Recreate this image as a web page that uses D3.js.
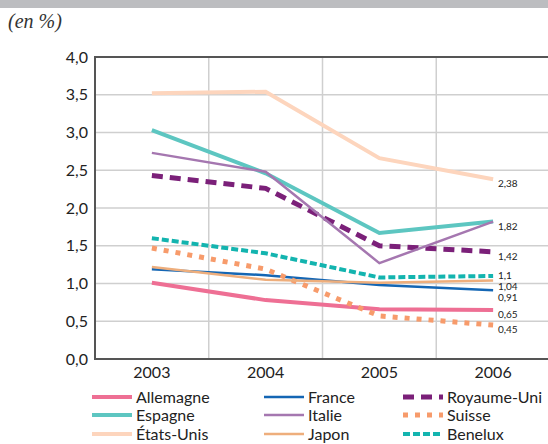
<!DOCTYPE html>
<html>
<head>
<meta charset="utf-8">
<script src="https://cdn.jsdelivr.net/npm/d3@7"></script>
<style>
  html, body { margin: 0; padding: 0; background: #fff; }
  svg { display: block; }
</style>
</head>
<body>
<svg id="chart" width="548" height="444"></svg>
<script>
// Years on the horizontal axis
const years = ["2003", "2004", "2005", "2006"];

// Rates (%) per country
const allemagne  = [1.01, 0.78, 0.66, 0.65];
const france     = [1.19, 1.11, 0.98, 0.91];
const royaumeUni = [2.43, 2.26, 1.50, 1.42];
const espagne    = [3.03, 2.46, 1.67, 1.82];
const italie     = [2.73, 2.48, 1.27, 1.82];
const suisse     = [1.47, 1.19, 0.57, 0.45];
const etatsUnis  = [3.52, 3.54, 2.66, 2.38];
const japon      = [1.22, 1.05, 1.01, 1.04];
const benelux    = [1.60, 1.40, 1.08, 1.10];

// Value labels shown at the end of the lines
const endLabels = ["2,38", "1,82", "1,42", "1,1", "1,04", "0,91", "0,65", "0,45"];
const endValues = [2.38, 1.82, 1.42, 1.10, 1.04, 0.91, 0.65, 0.45];

const yTicks = [0, 0.5, 1, 1.5, 2, 2.5, 3, 3.5, 4];

const series = [
  { name: "Allemagne",   values: allemagne,  color: "#ee6f94", width: 4,   dash: null },
  { name: "France",      values: france,     color: "#1466b4", width: 2.5, dash: null },
  { name: "Royaume-Uni", values: royaumeUni, color: "#7b2079", width: 5,   dash: "11,7" },
  { name: "Espagne",     values: espagne,    color: "#5dc6c1", width: 4,   dash: null },
  { name: "Italie",      values: italie,     color: "#a577b0", width: 2.5, dash: null },
  { name: "Suisse",      values: suisse,     color: "#f79b6b", width: 5,   dash: "5,7" },
  { name: "États-Unis",  values: etatsUnis,  color: "#fdd5bd", width: 4,   dash: null },
  { name: "Japon",       values: japon,      color: "#eeae7c", width: 2.5, dash: null },
  { name: "Benelux",     values: benelux,    color: "#13b4af", width: 4,   dash: "7,3" }
];

const svg = d3.select("#chart");
const font = "Lato, 'Open Sans', sans-serif";

// Top grey band
svg.append("rect").attr("x", 0).attr("y", 0).attr("width", 548).attr("height", 8)
  .attr("fill", "#bcbdc0");

// Unit caption
svg.append("text").attr("x", 8).attr("y", 28)
  .attr("font-family", "'Liberation Serif', serif").attr("font-style", "italic")
  .attr("font-size", 20).attr("fill", "#333").text("(en %)");

const plotLeft = 95, plotRight = 550, plotTop = 57, plotBottom = 359;

const x = d3.scaleBand().domain(years).range([plotLeft, plotRight]).padding(0);
const y = d3.scaleLinear().domain([0, 4]).range([plotBottom, plotTop]);
const cx = d => x(d) + x.bandwidth() / 2;

// Grid
const grid = svg.append("g");
grid.selectAll("line.h").data(yTicks).join("line").attr("class", "h")
  .attr("x1", plotLeft).attr("x2", plotRight)
  .attr("y1", d => y(d)).attr("y2", d => y(d))
  .attr("stroke", "#cfcfcf").attr("stroke-width", 1.5);
grid.selectAll("line.v").data(years.slice(1)).join("line").attr("class", "v")
  .attr("x1", d => x(d)).attr("x2", d => x(d))
  .attr("y1", plotTop).attr("y2", plotBottom)
  .attr("stroke", "#cfcfcf").attr("stroke-width", 1.5);

// Frame (top, left, bottom)
svg.append("path")
  .attr("d", `M${plotRight},${plotTop}H${plotLeft}V${plotBottom}H${plotRight}`)
  .attr("fill", "none").attr("stroke", "#555").attr("stroke-width", 2);

// Y axis labels
const yAxis = svg.append("g").attr("transform", `translate(${plotLeft},0)`)
  .call(d3.axisLeft(y).tickValues(yTicks).tickSize(0).tickPadding(7)
    .tickFormat(d => d3.format(".1f")(d).replace(".", ",")));
yAxis.select(".domain").remove();
yAxis.selectAll("text").attr("font-family", font).attr("font-size", 16).attr("fill", "#222");

// X axis labels
const xAxis = svg.append("g").attr("transform", `translate(0,${plotBottom})`)
  .call(d3.axisBottom(x).tickSize(0).tickPadding(8));
xAxis.select(".domain").remove();
xAxis.selectAll("text").attr("font-family", font).attr("font-size", 16).attr("fill", "#222");

// Lines
const line = d3.line().x((d, i) => cx(years[i])).y(d => y(d));
svg.append("g").selectAll("path").data(series).join("path")
  .attr("d", d => line(d.values))
  .attr("fill", "none")
  .attr("stroke", d => d.color)
  .attr("stroke-width", d => d.width)
  .attr("stroke-dasharray", d => d.dash);

// End labels, spread apart so they don't overlap
const lab = endValues.map((v, i) => ({ text: endLabels[i], pos: y(v) + 4.5 }));
const gap = 11;
for (let it = 0; it < 50; it++) {
  for (let i = 1; i < lab.length; i++) {
    const d = lab[i].pos - lab[i - 1].pos;
    if (d < gap) {
      const s = (gap - d) / 2;
      lab[i - 1].pos -= s;
      lab[i].pos += s;
    }
  }
}
svg.append("g").selectAll("text").data(lab).join("text")
  .attr("x", 498).attr("y", d => d.pos)
  .attr("dy", "0.35em")
  .attr("font-family", font).attr("font-size", 10).attr("fill", "#222")
  .text(d => d.text);

// Legend: three columns, three rows
const colX = [92, 264, 403];
const rowY = [397, 415, 434];
const leg = svg.append("g");
series.forEach((s, i) => {
  const c = i % 3, r = Math.floor(i / 3);
  leg.append("line")
    .attr("x1", colX[c]).attr("x2", colX[c] + 40)
    .attr("y1", rowY[r]).attr("y2", rowY[r])
    .attr("stroke", s.color).attr("stroke-width", s.width)
    .attr("stroke-dasharray", s.dash);
  leg.append("text")
    .attr("x", colX[c] + 44).attr("y", rowY[r]).attr("dy", "0.35em")
    .attr("font-family", font).attr("font-size", 16).attr("fill", "#222")
    .text(s.name);
});
</script>
</body>
</html>
